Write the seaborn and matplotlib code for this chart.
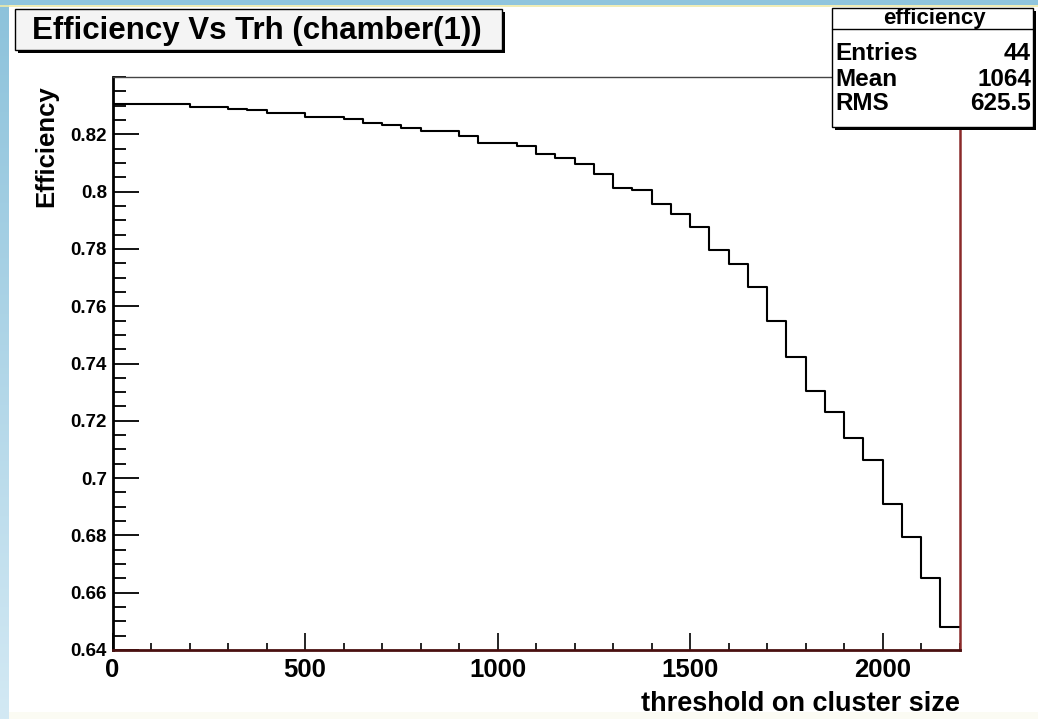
import numpy as np
import pandas as pd
import seaborn as sns
import matplotlib
matplotlib.use("Agg")
import matplotlib.pyplot as plt
from matplotlib.patches import Rectangle
from matplotlib.lines import Line2D

# ---- data: efficiency per threshold bin (44 bins of width 50) ----
bin_edges = list(range(0, 2250, 50))
efficiency = [
    0.8305, 0.8305, 0.8305, 0.8305, 0.8297, 0.8297, 0.8290, 0.8285,
    0.8276, 0.8276, 0.8260, 0.8260, 0.8254, 0.8238, 0.8233, 0.8221,
    0.8212, 0.8212, 0.8195, 0.8169, 0.8169, 0.8160, 0.8132, 0.8117,
    0.8096, 0.8062, 0.8014, 0.8006, 0.7955, 0.7923, 0.7877, 0.7795,
    0.7748, 0.7667, 0.7547, 0.7424, 0.7305, 0.7231, 0.7140, 0.7062,
    0.6911, 0.6795, 0.6652, 0.6480,
]
x_ticks = [0, 500, 1000, 1500, 2000]
x_tick_labels = ["0", "500", "1000", "1500", "2000"]
y_ticks = [0.64, 0.66, 0.68, 0.70, 0.72, 0.74, 0.76, 0.78, 0.80, 0.82]
y_tick_labels = ["0.64", "0.66", "0.68", "0.7", "0.72", "0.74", "0.76",
                 "0.78", "0.8", "0.82"]
title_text = "Efficiency Vs Trh (chamber(1))"
stats_name = "efficiency"
stats_rows = [("Entries", "44"), ("Mean", "1064"), ("RMS", "625.5")]

sns.set_style("ticks")
plt.rcParams["font.family"] = ["Liberation Sans", "DejaVu Sans"]
plt.rcParams["font.weight"] = "bold"
for key in ("text.color", "axes.labelcolor", "xtick.color", "ytick.color"):
    plt.rcParams[key] = "black"

W, H = 1038, 719
fig = plt.figure(figsize=(W / 100, H / 100), dpi=100)
fig.patch.set_facecolor("white")


def fx(px):
    return px / W


def fy(py):
    return 1 - py / H


# slide decoration: blue gradient band on the left, blue strip on top
band = fig.add_axes([0, 0, fx(9), 1])
grad = np.linspace(0, 1, 256).reshape(-1, 1)
cmap = matplotlib.colors.LinearSegmentedColormap.from_list(
    "band", ["#8cc2db", "#d3e9f4"])
band.imshow(grad, aspect="auto", cmap=cmap, extent=[0, 1, 0, 1])
band.set_axis_off()
topband = fig.add_axes([0, fy(5), 1, 5 / H])
topband.set_facecolor("#90c5dd")
topband.set_xticks([])
topband.set_yticks([])
for s in topband.spines.values():
    s.set_visible(False)
fig.add_artist(Line2D([0, 1], [fy(5.5), fy(5.5)], color="#eeeaa8", lw=1.2,
                      transform=fig.transFigure))
fig.add_artist(Rectangle((fx(9), 0), 1, fy(712), transform=fig.transFigure,
                         facecolor="#fbfbf3", edgecolor="none", zorder=-5))

# ---- main histogram ----
ax = fig.add_axes([fx(112.5), fy(650), fx(959.5) - fx(112.5), fy(77) - fy(650)])
ax.set_facecolor("white")
df = pd.DataFrame({
    "threshold": np.array(bin_edges[:-1]) + 25,
    "efficiency": efficiency,
})
sns.histplot(data=df, x="threshold", weights="efficiency", bins=bin_edges,
             element="step", fill=False, color="black", linewidth=1.5, ax=ax)

ax.set_xlim(0, 2200)
ax.set_ylim(0.64, 0.84)
ax.set_xticks(x_ticks)
ax.set_xticklabels(x_tick_labels, fontsize=18.5, fontweight="bold")
ax.set_yticks(y_ticks)
ax.set_yticklabels(y_tick_labels, fontsize=13.5, fontweight="bold")
ax.set_xticks(np.arange(0, 2201, 100), minor=True)
ax.set_yticks(np.arange(0.64, 0.8401, 0.005), minor=True)
ax.tick_params(axis="y", which="major", direction="in", length=19, width=1.3,
               pad=4, colors="black")
ax.tick_params(axis="y", which="minor", direction="in", length=9.5, width=1.3,
               colors="black")
ax.tick_params(axis="x", which="major", direction="in", length=12, width=1.2,
               pad=6, colors="black")
ax.tick_params(axis="x", which="minor", direction="in", length=5, width=1.2,
               colors="black")

ax.spines["left"].set_linewidth(2)
ax.spines["left"].set_color("black")
ax.spines["top"].set_linewidth(1)
ax.spines["top"].set_color("#444444")
ax.spines["right"].set_linewidth(1.8)
ax.spines["right"].set_color("#8b2a2a")
ax.spines["bottom"].set_linewidth(2)
ax.spines["bottom"].set_color("#4a1010")

ax.set_xlabel("threshold on cluster size", fontsize=19.5, fontweight="bold",
              color="black")
ax.xaxis.set_label_coords(1.0, -0.072)
ax.xaxis.label.set_horizontalalignment("right")
ax.set_ylabel("Efficiency", fontsize=18.5, fontweight="bold", color="black")
ax.yaxis.set_label_coords(-0.078, 0.986)
ax.yaxis.label.set_verticalalignment("center")
ax.yaxis.label.set_horizontalalignment("right")

# ---- title box with drop shadow ----
tx0, ty0, tx1, ty1 = 15, 9, 502, 50
fig.add_artist(Rectangle((fx(tx0 + 3), fy(ty1 + 3)), fx(tx1 - tx0), (ty1 - ty0) / H,
                         transform=fig.transFigure, facecolor="black",
                         edgecolor="none"))
fig.add_artist(Rectangle((fx(tx0), fy(ty1)), fx(tx1 - tx0), (ty1 - ty0) / H,
                         transform=fig.transFigure, facecolor="#f4f4f4",
                         edgecolor="black", linewidth=1))
fig.text(fx((tx0 + tx1) / 2 - 2), fy((ty0 + ty1) / 2 + 1), title_text,
         fontsize=22.5, fontweight="bold", ha="center", va="center",
         color="black")

# ---- statistics box ----
sx0, sy0, sx1, sy1 = 832, 8, 1033, 127
fig.add_artist(Rectangle((fx(sx0 + 3), fy(sy1 + 3)), fx(sx1 - sx0), (sy1 - sy0) / H,
                         transform=fig.transFigure, facecolor="black",
                         edgecolor="none"))
fig.add_artist(Rectangle((fx(sx0), fy(sy1)), fx(sx1 - sx0), (sy1 - sy0) / H,
                         transform=fig.transFigure, facecolor="white",
                         edgecolor="black", linewidth=1))
fig.add_artist(Line2D([fx(sx0), fx(sx1)], [fy(29), fy(29)], color="black",
                      lw=1, transform=fig.transFigure))
fig.text(fx((sx0 + sx1) / 2 + 2), fy(18.5), stats_name, fontsize=16,
         fontweight="bold", ha="center", va="center", color="black")
for (name, val), yc in zip(stats_rows, [54, 80, 104]):
    fig.text(fx(sx0 + 3), fy(yc), name, fontsize=17.5, fontweight="bold",
             ha="left", va="center", color="black")
    fig.text(fx(sx1 - 2), fy(yc), val, fontsize=17.5, fontweight="bold",
             ha="right", va="center", color="black")

fig.savefig("out.png", dpi=100)
